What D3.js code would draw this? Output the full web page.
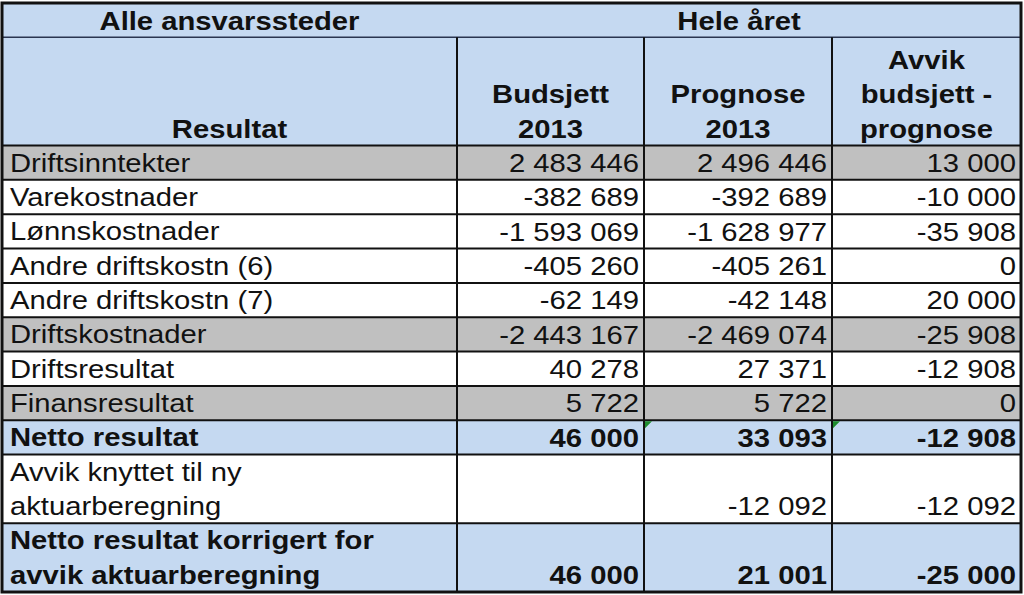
<!DOCTYPE html>
<html>
<head>
<meta charset="utf-8">
<script src="https://cdn.jsdelivr.net/npm/d3@7"></script>
<style>
  body { margin: 0; background: #fff; }
  svg text { font-family: "Liberation Sans", Arial, sans-serif; fill: #111; }
</style>
</head>
<body>
<div id="table"></div>
<script>
// Données du tableau
const groupTitle = "Alle ansvarssteder";
const periodTitle = "Hele året";
const columnHeaders = [
    ["Resultat"],
    ["Budsjett", "2013"],
    ["Prognose", "2013"],
    ["Avvik", "budsjett -", "prognose"]
];
const rowLabels = [
    ["Driftsinntekter"],
    ["Varekostnader"],
    ["Lønnskostnader"],
    ["Andre driftskostn (6)"],
    ["Andre driftskostn (7)"],
    ["Driftskostnader"],
    ["Driftsresultat"],
    ["Finansresultat"],
    ["Netto resultat"],
    ["Avvik knyttet til ny", "aktuarberegning"],
    ["Netto resultat korrigert for", "avvik aktuarberegning"]
];
const budsjett = [2483446, -382689, -1593069, -405260, -62149, -2443167, 40278, 5722, 46000, null, 46000];
const prognose = [2496446, -392689, -1628977, -405261, -42148, -2469074, 27371, 5722, 33093, -12092, 21001];
const avvik = [13000, -10000, -35908, 0, 20000, -25908, -12908, 0, -12908, -12092, -25000];
const rowKind = ["grey", "plain", "plain", "plain", "plain", "grey", "plain", "grey", "total", "plain", "total"];

function drawTable() {
    const width = 1024, height = 595;
    const colEdges = [2, 457, 644, 832, 1021];
    const blue = "#c5d9f1", grey = "#c0c0c0";
    const stretch = 1.17;

    const fmt = d3.formatLocale({
        decimal: ",", thousands: " ", grouping: [3], currency: ["", ""], minus: "-"
    }).format(",d");

    // hauteur en "lignes" de chaque rangée
    const headUnits = [1, 3.15];
    const rowUnits = rowLabels.map(l => l.length);
    const units = headUnits.concat(rowUnits);
    const cum = [0];
    units.forEach(u => cum.push(cum[cum.length - 1] + u));
    const y = d3.scaleLinear().domain([0, cum[cum.length - 1]]).range([3, 592]);
    const lineH = y(1) - y(0);

    const svg = d3.select('#table').append('svg')
        .attr('width', width).attr('height', height);

    const txt = (x, yy, s, anchor, bold) => svg.append('text')
        .attr('transform', `translate(${x},${yy}) scale(${stretch},1)`)
        .attr('text-anchor', anchor)
        .attr('font-size', 25)
        .attr('font-weight', bold ? 'bold' : 'normal')
        .text(s);

    // fonds
    svg.append('rect').attr('x', colEdges[0]).attr('y', y(cum[0]))
        .attr('width', colEdges[4] - colEdges[0]).attr('height', y(cum[2]) - y(cum[0]))
        .attr('fill', blue);
    rowLabels.forEach((l, i) => {
        const fill = rowKind[i] === 'grey' ? grey : rowKind[i] === 'total' ? blue : '#fff';
        svg.append('rect').attr('x', colEdges[0]).attr('y', y(cum[i + 2]))
            .attr('width', colEdges[4] - colEdges[0]).attr('height', y(cum[i + 3]) - y(cum[i + 2]))
            .attr('fill', fill);
    });

    // lignes horizontales
    cum.slice(1, -1).forEach((c, i) => {
        svg.append('line').attr('x1', colEdges[0]).attr('x2', colEdges[4])
            .attr('y1', y(c)).attr('y2', y(c))
            .attr('stroke', i === 0 ? '#2a3550' : '#111').attr('stroke-width', i === 0 ? 1.5 : 2);
    });
    // lignes verticales (pas dans la première rangée d'en-tête)
    colEdges.slice(1, -1).forEach(x => {
        svg.append('line').attr('x1', x).attr('x2', x)
            .attr('y1', y(cum[1])).attr('y2', y(cum[cum.length - 1]))
            .attr('stroke', '#111').attr('stroke-width', 2);
    });
    // cadre
    svg.append('rect').attr('x', colEdges[0]).attr('y', y(0))
        .attr('width', colEdges[4] - colEdges[0]).attr('height', y(cum[cum.length - 1]) - y(0))
        .attr('fill', 'none').attr('stroke', '#111').attr('stroke-width', 3);

    // en-têtes
    const pad = 8;
    txt((colEdges[0] + colEdges[1]) / 2, y(1) - 7, groupTitle, 'middle', true);
    txt((colEdges[1] + colEdges[4]) / 2, y(1) - 7, periodTitle, 'middle', true);
    columnHeaders.forEach((lines, c) => {
        const cx = (colEdges[c] + colEdges[c + 1]) / 2;
        lines.forEach((s, k) => {
            txt(cx, y(cum[2]) - 8 - (lines.length - 1 - k) * lineH, s, 'middle', true);
        });
    });

    // données
    const series = [budsjett, prognose, avvik];
    rowLabels.forEach((lines, i) => {
        const bold = rowKind[i] === 'total';
        const top = y(cum[i + 2]);
        lines.forEach((s, k) => txt(colEdges[0] + pad, top + 26 + k * lineH, s, 'start', bold));
        const base = y(cum[i + 3]) - 8;
        series.forEach((vals, c) => {
            if (vals[i] === null) return;
            txt(colEdges[c + 2] - 5, base, fmt(vals[i]), 'end', bold);
        });
    });

    // indicateurs verts d'Excel
    const ni = rowKind.indexOf('total');
    [2, 3].forEach(c => {
        const x0 = colEdges[c] + 1, y0 = y(cum[ni + 2]) + 1;
        svg.append('path')
            .attr('d', `M${x0},${y0}L${x0 + 7},${y0}L${x0},${y0 + 7}Z`)
            .attr('fill', '#1e8c2e');
    });
}

document.addEventListener('DOMContentLoaded', drawTable);
</script>
</body>
</html>
